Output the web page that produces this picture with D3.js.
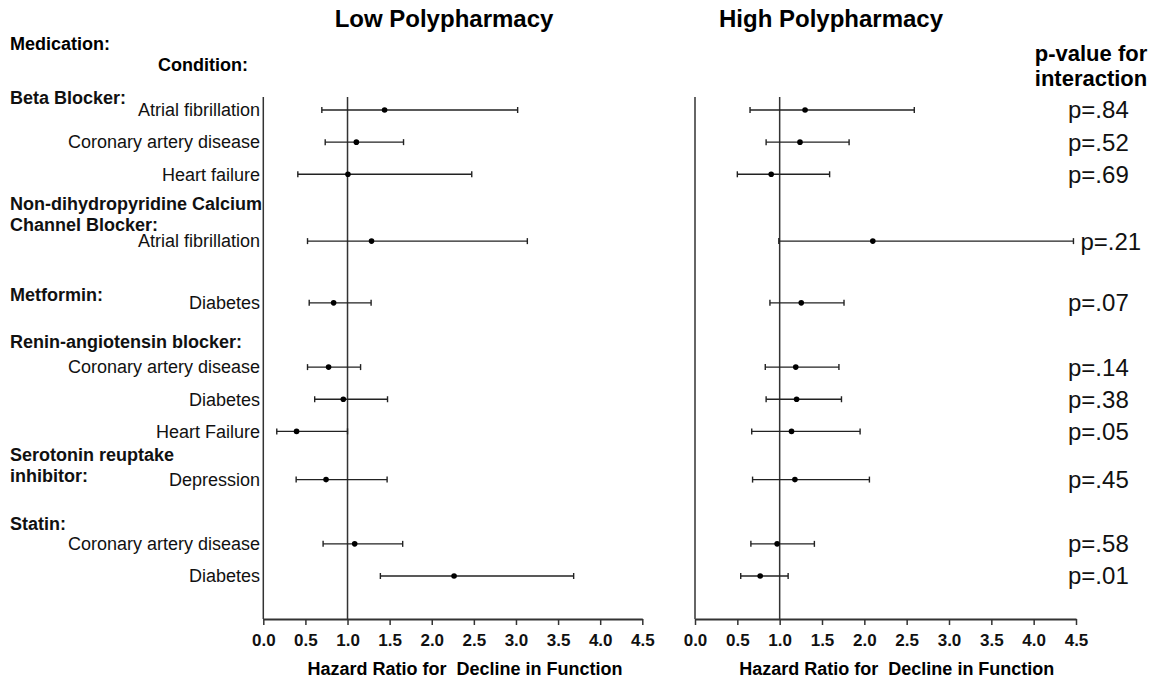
<!DOCTYPE html>
<html>
<head>
<meta charset="utf-8">
<script src="https://cdn.jsdelivr.net/npm/d3@7"></script>
<style>
  body { margin: 0; background: #fff; }
  svg { font-family: "Liberation Sans", Arial, sans-serif; }
</style>
</head>
<body>
<svg id="chart" width="1160" height="682"></svg>
<script>
const conditions = [
  "Atrial fibrillation", "Coronary artery disease", "Heart failure",
  "Atrial fibrillation", "Diabetes", "Coronary artery disease", "Diabetes",
  "Heart Failure", "Depression", "Coronary artery disease", "Diabetes"
];
// row slot index (groups leave gaps between rows)
const rowSlot = [0, 1, 2, 4.08, 6, 8, 9, 10, 11.5, 13.5, 14.5];

const lowHR = [1.44, 1.105, 1.005, 1.285, 0.835, 0.775, 0.95, 0.395, 0.745, 1.085, 2.265];
const lowLo = [0.695, 0.735, 0.41, 0.525, 0.545, 0.525, 0.61, 0.16, 0.39, 0.71, 1.39];
const lowHi = [3.02, 1.665, 2.475, 3.135, 1.28, 1.155, 1.475, 1.0, 1.47, 1.655, 3.685];

const highHR = [1.30, 1.24, 0.90, 2.10, 1.255, 1.19, 1.20, 1.14, 1.18, 0.97, 0.77];
const highLo = [0.65, 0.84, 0.50, 0.99, 0.885, 0.83, 0.84, 0.67, 0.68, 0.66, 0.54];
const highHi = [2.59, 1.82, 1.59, 4.47, 1.76, 1.70, 1.73, 1.95, 2.06, 1.41, 1.10];

const pValues = ["p=.84", "p=.52", "p=.69", "p=.21", "p=.07", "p=.14",
                 "p=.38", "p=.05", "p=.45", "p=.58", "p=.01"];

const medications = [
  { lines: ["Beta Blocker:"], slot: -0.39 },
  { lines: ["Non-dihydropyridine Calcium", "Channel Blocker:"], slot: 2.93 },
  { lines: ["Metformin:"], slot: 5.76 },
  { lines: ["Renin-angiotensin blocker:"], slot: 7.2 },
  { lines: ["Serotonin reuptake", "inhibitor:"], slot: 10.73 },
  { lines: ["Statin:"], slot: 12.88 }
];

const xTicks = d3.range(0, 4.51, 0.5);

const svg = d3.select("#chart");
const AXIS_Y = 619;
const TOP_Y = 97;

const y = d3.scaleLinear().domain([0, 14.5]).range([110, 576]);

const panels = [
  { title: "Low Polypharmacy", titleX: 444, range: [263.3, 642.3], hr: lowHR, lo: lowLo, hi: lowHi },
  { title: "High Polypharmacy", titleX: 831, range: [695, 1076], hr: highHR, lo: highLo, hi: highHi }
];

const rows = conditions.map((c, i) => ({ c, slot: rowSlot[i], i }));

panels.forEach(p => {
  const x = d3.scaleLinear().domain([0, 4.5]).range(p.range);
  const g = svg.append("g");

  g.append("text")
    .attr("x", p.titleX).attr("y", 27)
    .attr("text-anchor", "middle")
    .attr("font-weight", "bold").attr("font-size", 24)
    .text(p.title);

  // vertical axis line and HR = 1 reference
  g.append("line")
    .attr("x1", x(0)).attr("x2", x(0))
    .attr("y1", TOP_Y).attr("y2", AXIS_Y)
    .attr("stroke", "#333").attr("stroke-width", 1.5);
  g.append("line")
    .attr("x1", x(1)).attr("x2", x(1))
    .attr("y1", TOP_Y).attr("y2", AXIS_Y)
    .attr("stroke", "#333").attr("stroke-width", 1.5);

  const axis = g.append("g")
    .attr("transform", `translate(0,${AXIS_Y})`)
    .call(d3.axisBottom(x).tickValues(xTicks).tickFormat(d3.format(".1f"))
      .tickSize(6).tickPadding(9).tickSizeOuter(0));
  axis.select(".domain").attr("stroke", "#333").attr("stroke-width", 2);
  axis.selectAll(".tick line").attr("stroke", "#333").attr("stroke-width", 1.5);
  axis.selectAll(".tick text")
    .attr("font-family", "Liberation Sans, Arial, sans-serif")
    .attr("font-size", 17).attr("font-weight", "bold").attr("fill", "#111");

  g.append("text")
    .attr("x", x(0.5) + 2).attr("y", 675)
    .attr("font-weight", "bold").attr("font-size", 18)
    .style("white-space", "pre")
    .text("Hazard Ratio for  Decline in Function");

  const bars = g.selectAll(".bar").data(rows).join("g").attr("class", "bar");
  bars.append("line")
    .attr("x1", d => x(p.lo[d.i])).attr("x2", d => x(p.hi[d.i]))
    .attr("y1", d => y(d.slot)).attr("y2", d => y(d.slot))
    .attr("stroke", "#222").attr("stroke-width", 1.4);
  ["lo", "hi"].forEach(k => {
    bars.append("line")
      .attr("x1", d => x(p[k][d.i])).attr("x2", d => x(p[k][d.i]))
      .attr("y1", d => y(d.slot) - 3).attr("y2", d => y(d.slot) + 3)
      .attr("stroke", "#222").attr("stroke-width", 1.4);
  });
  bars.append("circle")
    .attr("cx", d => x(p.hr[d.i])).attr("cy", d => y(d.slot))
    .attr("r", 2.8).attr("fill", "#000");

  p.x = x;
});

// condition labels
svg.append("g").selectAll("text").data(rows).join("text")
  .attr("x", 260).attr("y", d => y(d.slot)).attr("dy", "0.35em")
  .attr("text-anchor", "end").attr("font-size", 18).attr("fill", "#111")
  .text(d => d.c);

// medication group labels
medications.forEach(m => {
  m.lines.forEach((line, j) => {
    svg.append("text")
      .attr("x", 10).attr("y", y(m.slot) + j * 21).attr("dy", "0.35em")
      .attr("font-size", 18).attr("font-weight", "bold").attr("fill", "#111")
      .text(line);
  });
});

svg.append("text").attr("x", 10).attr("y", 50)
  .attr("font-size", 18).attr("font-weight", "bold").text("Medication:");
svg.append("text").attr("x", 158).attr("y", 71)
  .attr("font-size", 18).attr("font-weight", "bold").text("Condition:");

// p-value column
svg.append("text").attr("x", 1091).attr("y", 61).attr("text-anchor", "middle")
  .attr("font-size", 22).attr("font-weight", "bold").text("p-value for");
svg.append("text").attr("x", 1091).attr("y", 86).attr("text-anchor", "middle")
  .attr("font-size", 22).attr("font-weight", "bold").text("interaction");

const xHigh = panels[1].x;
svg.append("g").selectAll("text").data(rows).join("text")
  .attr("x", d => Math.max(1068, xHigh(highHi[d.i]) + 7))
  .attr("y", d => y(d.slot)).attr("dy", "0.35em")
  .attr("font-size", 24).attr("fill", "#111")
  .text(d => pValues[d.i]);
</script>
</body>
</html>
